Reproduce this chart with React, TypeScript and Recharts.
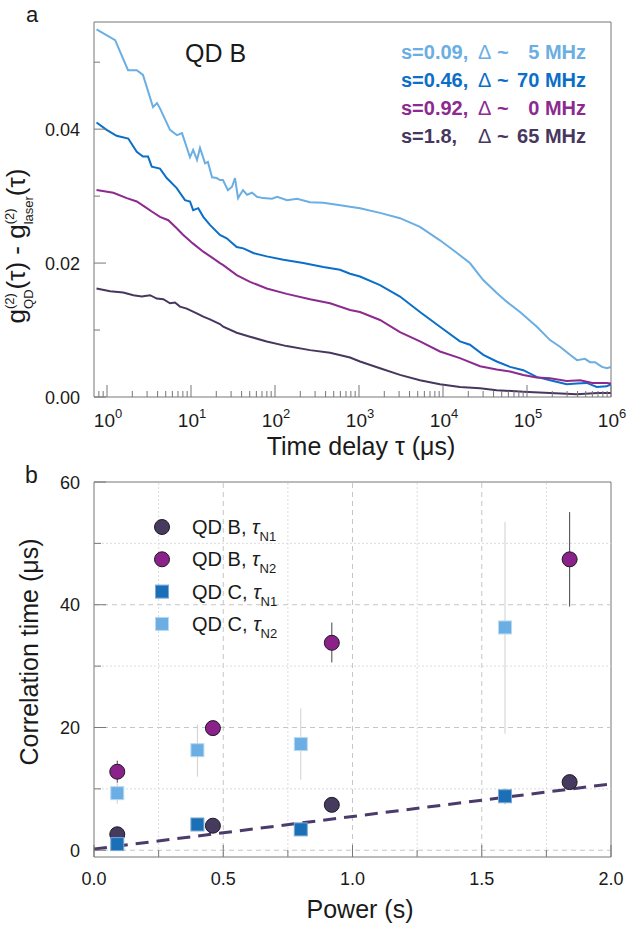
import React from 'react';
import {
  LineChart,
  ComposedChart,
  Line,
  Scatter,
  ErrorBar,
  XAxis,
  YAxis,
  ReferenceArea,
  ReferenceLine,
  Legend,
  Label,
} from 'recharts';

const FONT = '"Liberation Sans", Arial, Helvetica, sans-serif';
const INK = '#1a1a1a';
const FRAME = '#777';

// ---------- panel a: g2_QD - g2_laser vs delay ----------
const tauS009 = [0.75, 1.25, 1.78, 2.26, 2.68, 3.53, 3.94, 4.27, 5.62, 6.81, 7.81, 9.73, 10.6, 11.8, 12.8, 14.7, 15.9, 17.8, 20.2, 22.1, 24, 27.5, 30.8, 33.4, 36.3, 41.6, 46.4, 53.2, 61, 72, 92, 106, 139, 183, 261, 373, 547, 782, 1028, 1778, 3076, 5320, 9200, 14700, 20900, 29900, 44000, 57800, 82600, 131000, 188000, 247000, 325000, 394000, 490000, 562000, 645000, 781000, 896000, 1000000];
const gS009 = [0.0549, 0.0533, 0.0488, 0.0488, 0.0481, 0.0433, 0.0439, 0.0431, 0.0399, 0.0391, 0.0394, 0.0358, 0.0369, 0.0354, 0.0372, 0.0349, 0.0351, 0.0328, 0.0327, 0.0324, 0.0324, 0.0309, 0.0314, 0.0327, 0.0297, 0.0309, 0.0302, 0.0305, 0.0299, 0.0297, 0.0296, 0.0299, 0.0294, 0.0296, 0.0291, 0.029, 0.0287, 0.0284, 0.0282, 0.0275, 0.0267, 0.0254, 0.0234, 0.0215, 0.02, 0.0175, 0.0155, 0.0142, 0.0127, 0.0105, 0.0085, 0.0075, 0.0063, 0.0055, 0.0057, 0.0052, 0.0052, 0.0045, 0.0043, 0.0045];

const tauS046 = [0.75, 0.99, 1.3, 1.79, 2.26, 2.68, 3.08, 3.41, 4.27, 5.14, 6.76, 8.48, 9.73, 10.6, 12.2, 14, 16.8, 22.1, 26.6, 35, 42, 55.2, 79.7, 126, 217, 376, 594, 782, 1028, 1778, 3076, 5320, 9200, 15900, 20900, 30200, 43600, 62800, 90300, 130000, 188000, 297000, 391000, 514000, 676000, 888000, 1000000];
const gS046 = [0.041, 0.0399, 0.039, 0.0386, 0.0366, 0.0359, 0.0359, 0.0344, 0.0341, 0.0327, 0.0312, 0.0294, 0.0292, 0.0279, 0.0282, 0.0269, 0.0257, 0.0242, 0.0237, 0.0224, 0.0222, 0.0215, 0.021, 0.0205, 0.02, 0.0194, 0.019, 0.0184, 0.018, 0.0167, 0.015, 0.0127, 0.0105, 0.0083, 0.0078, 0.0063, 0.0053, 0.0045, 0.004, 0.003, 0.0025, 0.0019, 0.002, 0.0021, 0.0015, 0.0016, 0.0019];

const tauS092 = [0.75, 1.19, 1.72, 2.26, 2.83, 3.41, 4.27, 5.37, 6.76, 8.09, 10.6, 14, 18.4, 22.1, 24.2, 35, 50.4, 79.7, 138, 261, 452, 782, 1028, 1778, 3076, 5320, 9200, 15900, 27600, 43600, 62800, 90300, 130000, 188000, 297000, 430000, 600000, 888000, 1000000];
const gS092 = [0.0309, 0.0305, 0.0297, 0.0292, 0.0284, 0.0277, 0.0269, 0.0264, 0.0252, 0.0242, 0.0229, 0.0217, 0.0207, 0.02, 0.0197, 0.0182, 0.0172, 0.0162, 0.0154, 0.0146, 0.014, 0.013, 0.0127, 0.0115, 0.0097, 0.0083, 0.0068, 0.0058, 0.0046, 0.0041, 0.0038, 0.0033, 0.0029, 0.0028, 0.0024, 0.0025, 0.0021, 0.0021, 0.002];

const tauS18 = [0.75, 1.09, 1.56, 2.06, 2.59, 3.25, 3.91, 4.68, 5.62, 6.45, 7.39, 8.89, 11.7, 14, 16.8, 22.1, 24.2, 35, 50.4, 79.7, 138, 261, 452, 782, 1028, 1778, 3076, 5320, 9200, 15900, 27600, 43600, 90300, 188000, 391000, 700000, 1000000];
const gS18 = [0.0162, 0.0158, 0.0156, 0.0152, 0.015, 0.0152, 0.0147, 0.0146, 0.014, 0.0141, 0.0135, 0.0132, 0.0125, 0.012, 0.0116, 0.0109, 0.0105, 0.0096, 0.009, 0.0083, 0.0076, 0.007, 0.0066, 0.0059, 0.0053, 0.0043, 0.0033, 0.0025, 0.0019, 0.0015, 0.0013, 0.001, 0.0008, 0.0006, 0.0004, 0.0006, 0.0006];

const powerLabelsA = ['s=0.09,', 's=0.46,', 's=0.92,', 's=1.8,'];
const detuningLabelsA = ['5 MHz', '70 MHz', '0 MHz', '65 MHz'];
const colorsA = ['#6aaee3', '#0b6fc8', '#8c2a8f', '#47375e'];

const seriesA = [
  [tauS009, gS009],
  [tauS046, gS046],
  [tauS092, gS092],
  [tauS18, gS18],
].map(([tau, g]) => tau.map((t, i) => ({ tau: t, g: g[i] })));

const X_DOMAIN_A: [number, number] = [0.7, 1e6];
const Y_DOMAIN_A: [number, number] = [0, 0.056];
const decadesA = [0, 1, 2, 3, 4, 5, 6];
const logTicksA = [0.8, 0.9]
  .concat(decadesA.flatMap((d) => [1, 2, 3, 4, 5, 6, 7, 8, 9].map((m) => m * Math.pow(10, d))))
  .filter((v) => v <= 1e6);
const yTicksA = [0, 0.01, 0.02, 0.03, 0.04, 0.05];

// ---------- panel b: correlation times vs power ----------
const powerB = [0.09, 0.46, 0.92, 1.84];
const tauN1B = [2.6, 4.0, 7.4, 11.1];
const errN1B = [0.6, 0.4, 0.5, 0.7];
const tauN2B = [12.8, 19.9, 33.8, 47.4];
const errN2B = [[1.8, 1.8], [0.8, 0.8], [3.2, 3.3], [7.7, 7.7]];

const powerC = [0.09, 0.4, 0.8, 1.59];
const tauN1C = [1.0, 4.2, 3.4, 8.8];
const errN1C = [0.4, 0.6, 0.7, 1.3];
const tauN2C = [9.3, 16.3, 17.3, 36.3];
const errN2C = [[1.7, 1.6], [4.3, 4.2], [5.8, 5.8], [17.3, 17.2]];

const fitPower = [0, 2.0];
const fitTau = [0.2, 10.8];

const xTicksB = [0, 0.25, 0.5, 0.75, 1, 1.25, 1.5, 1.75, 2];
const yTicksB = [0, 10, 20, 30, 40, 50, 60];
const gridXB = [0.25, 0.5, 0.75, 1, 1.25, 1.5, 1.75];
const gridYB = [0, 10, 20, 30, 40, 50];
const X_DOMAIN_B: [number, number] = [0, 2];
const Y_DOMAIN_B: [number, number] = [-1.1, 60];

const legendNamesB = ['QD B, ', 'QD B, ', 'QD C, ', 'QD C, '];
const legendSubB = ['N1', 'N2', 'N1', 'N2'];

const pts = (p: number[], t: number[], e: any[]) => p.map((x, i) => ({ p: x, t: t[i], e: e[i] }));
const dataN1B = pts(powerB, tauN1B, errN1B);
const dataN2B = pts(powerB, tauN2B, errN2B);
const dataN1C = pts(powerC, tauN1C, errN1C);
const dataN2C = pts(powerC, tauN2C, errN2C);
const fitData = fitPower.map((p, i) => ({ p, t: fitTau[i] }));

const DARK = '#463a5e';
const PURPLE = '#8b2289';
const BLUE = '#1b6fb6';
const LIGHT = '#6aaee3';

const circle = (fill: string) => (p: any) => (
  <circle cx={p.cx} cy={p.cy} r={7.5} fill={fill} stroke="#1e1a26" strokeWidth={1} />
);
const square = (fill: string, edge: string) => (p: any) => (
  <rect x={p.cx - 6.5} y={p.cy - 6.5} width={13} height={13} fill={fill} stroke={edge} strokeWidth={1} />
);
const legendShapesB = [circle(DARK), circle(PURPLE), square(BLUE, '#7aa9d4'), square(LIGHT, '#b9d8f1')];

// ---------- ticks ----------
function LogTick({ x, y, payload }: any) {
  const e = Math.log10(payload.value);
  const major = Math.abs(e - Math.round(e)) < 1e-6;
  return (
    <g>
      <line x1={x} x2={x} y1={y} y2={y - (major ? 12 : 6)} stroke={FRAME} />
      {major && (
        <text x={x + 1} y={y + 30} textAnchor="middle" fontFamily={FONT} fontSize={19} fill={INK}>
          10<tspan dy={-9} fontSize={13}>{Math.round(e)}</tspan>
        </text>
      )}
    </g>
  );
}

function GTick({ x, y, payload }: any) {
  const v = payload.value;
  const major = Math.round(v * 100) % 2 === 0;
  return (
    <g>
      <line x1={x} x2={x + (major ? 12 : 6)} y1={y} y2={y} stroke={FRAME} />
      {major && (
        <text x={x - 14} y={y + 6.5} textAnchor="end" fontFamily={FONT} fontSize={18} fill={INK}>
          {v.toFixed(2)}
        </text>
      )}
    </g>
  );
}

function PowerTick({ x, y, payload }: any) {
  const v = payload.value;
  const major = Math.abs(v * 2 - Math.round(v * 2)) < 1e-6;
  return (
    <g>
      <line x1={x} x2={x} y1={y} y2={y - (major ? 12 : 7)} stroke={FRAME} />
      {major && (
        <text x={x} y={y + 28} textAnchor="middle" fontFamily={FONT} fontSize={18} fill={INK}>
          {v.toFixed(1)}
        </text>
      )}
    </g>
  );
}

function CorrTick({ x, y, payload }: any) {
  const v = payload.value;
  const major = v % 20 === 0;
  return (
    <g>
      <line x1={x} x2={x + (major ? 12 : 7)} y1={y} y2={y} stroke={FRAME} />
      {major && (
        <text x={x - 14} y={y + 6.5} textAnchor="end" fontFamily={FONT} fontSize={18} fill={INK}>
          {v}
        </text>
      )}
    </g>
  );
}

// ---------- legends / annotations ----------
function LegendA() {
  return (
    <svg width={629} height={160} style={{ display: 'block' }} fontFamily={FONT}>
      <text x={26} y={22} fontSize={22} fill={INK}>a</text>
      <text x={185} y={62} fontSize={25} fill={INK}>QD B</text>
      {powerLabelsA.map((s, i) => {
        const y = 59 + 28 * i;
        return (
          <g key={s} fill={colorsA[i]} fontSize={20} fontWeight={700}>
            <text x={401} y={y}>{s}</text>
            <text x={478} y={y}>
              <tspan fontWeight={400}>Δ</tspan> ~
            </text>
            <text x={586} y={y} textAnchor="end">{detuningLabelsA[i]}</text>
          </g>
        );
      })}
    </svg>
  );
}

function LegendB() {
  return (
    <svg width={629} height={180} style={{ display: 'block' }} fontFamily={FONT}>
      <text x={25} y={21} fontSize={23} fill={INK}>b</text>
      {legendNamesB.map((name, i) => {
        const cy = 65 + 32.3 * i;
        return (
          <g key={i}>
            {legendShapesB[i]({ cx: 162, cy })}
            <text x={192} y={cy + 7} fontSize={20} fill={INK}>
              {name}
              <tspan fontStyle="italic">τ</tspan>
              <tspan dy={7} fontSize={13}>{legendSubB[i]}</tspan>
            </text>
          </g>
        );
      })}
    </svg>
  );
}

const overlayStyle: React.CSSProperties = { left: 0, top: 0, width: 629, pointerEvents: 'none' };

function PanelA() {
  return (
    <LineChart width={629} height={462} margin={{ top: 22, right: 18, bottom: 35, left: 0 }}>
      <XAxis
        dataKey="tau"
        type="number"
        scale="log"
        domain={X_DOMAIN_A}
        allowDataOverflow
        ticks={logTicksA}
        interval={0}
        tick={(p: any) => <LogTick {...p} />}
        tickLine={false}
        tickSize={0}
        tickMargin={0}
        axisLine={false}
        height={30}
      >
        <Label
          content={() => (
            <text x={361} y={455} textAnchor="middle" fontFamily={FONT} fontSize={25} fill={INK}>
              Time delay τ (μs)
            </text>
          )}
        />
      </XAxis>
      <YAxis
        type="number"
        domain={Y_DOMAIN_A}
        allowDataOverflow
        ticks={yTicksA}
        interval={0}
        tick={(p: any) => <GTick {...p} />}
        tickLine={false}
        tickSize={0}
        tickMargin={0}
        axisLine={false}
        width={94}
      >
        <Label
          content={() => (
            <text
              transform="translate(25, 246) rotate(-90)"
              textAnchor="middle"
              fontFamily={FONT}
              fontSize={26}
              fill={INK}
            >
              g<tspan dy={-11} fontSize={13}>(2)</tspan>
              <tspan dx={-15.9} dy={19} fontSize={13}>QD</tspan>
              <tspan dy={-8}>(τ) - g</tspan>
              <tspan dy={-11} fontSize={13}>(2)</tspan>
              <tspan dx={-15.9} dy={19} fontSize={13}>laser</tspan>
              <tspan dy={-8}>(τ)</tspan>
            </text>
          )}
        />
      </YAxis>
      {seriesA.map((d, i) => (
        <Line
          key={powerLabelsA[i]}
          data={d}
          dataKey="g"
          type="linear"
          stroke={colorsA[i]}
          strokeWidth={2}
          dot={false}
          isAnimationActive={false}
        />
      ))}
      <ReferenceArea
        x1={X_DOMAIN_A[0]}
        x2={X_DOMAIN_A[1]}
        y1={Y_DOMAIN_A[0]}
        y2={Y_DOMAIN_A[1]}
        fill="none"
        stroke={FRAME}
        strokeWidth={1}
      />
      <Legend
        layout="vertical"
        align="center"
        verticalAlign="middle"
        content={() => <LegendA />}
        wrapperStyle={{ ...overlayStyle, height: 160 }}
      />
    </LineChart>
  );
}

function PanelB() {
  const major = (v: number) => Math.abs(v * 2 - Math.round(v * 2)) < 1e-6;
  return (
    <ComposedChart width={629} height={465} margin={{ top: 20, right: 18, bottom: 40, left: 0 }}>
      <XAxis
        dataKey="p"
        type="number"
        domain={X_DOMAIN_B}
        allowDataOverflow
        ticks={xTicksB}
        interval={0}
        tick={(p: any) => <PowerTick {...p} />}
        tickLine={false}
        tickSize={0}
        tickMargin={0}
        axisLine={false}
        height={30}
      >
        <Label
          content={() => (
            <text x={360} y={456} textAnchor="middle" fontFamily={FONT} fontSize={25} fill={INK}>
              Power (s)
            </text>
          )}
        />
      </XAxis>
      <YAxis
        type="number"
        domain={Y_DOMAIN_B}
        allowDataOverflow
        ticks={yTicksB}
        interval={0}
        tick={(p: any) => <CorrTick {...p} />}
        tickLine={false}
        tickSize={0}
        tickMargin={0}
        axisLine={false}
        width={94}
      >
        <Label
          content={() => (
            <text
              transform="translate(38, 190) rotate(-90)"
              textAnchor="middle"
              fontFamily={FONT}
              fontSize={25}
              fill={INK}
            >
              Correlation time (μs)
            </text>
          )}
        />
      </YAxis>
      {gridXB.map((v) => (
        <ReferenceLine
          key={'x' + v}
          x={v}
          stroke={major(v) ? '#c6c6c6' : '#dcdcdc'}
          strokeDasharray={major(v) ? '5 4' : '2 2'}
        />
      ))}
      {gridYB.map((v) => (
        <ReferenceLine
          key={'y' + v}
          y={v}
          stroke={v % 20 === 0 ? '#c6c6c6' : '#dcdcdc'}
          strokeDasharray={v % 20 === 0 ? '5 4' : '2 2'}
        />
      ))}
      <Line
        data={fitData}
        dataKey="t"
        type="linear"
        stroke="#4b3b6b"
        strokeWidth={3}
        strokeDasharray="13 8"
        dot={false}
        isAnimationActive={false}
      />
      <Scatter data={dataN1B} dataKey="t" shape={circle(DARK)} isAnimationActive={false}>
        <ErrorBar dataKey="e" direction="y" width={0} stroke="#555" strokeWidth={1} />
      </Scatter>
      <Scatter data={dataN2B} dataKey="t" shape={circle(PURPLE)} isAnimationActive={false}>
        <ErrorBar dataKey="e" direction="y" width={0} stroke="#444" strokeWidth={1} />
      </Scatter>
      <Scatter data={dataN1C} dataKey="t" shape={square(BLUE, '#7aa9d4')} isAnimationActive={false}>
        <ErrorBar dataKey="e" direction="y" width={0} stroke="#aaa" strokeWidth={1} />
      </Scatter>
      <Scatter data={dataN2C} dataKey="t" shape={square(LIGHT, '#b9d8f1')} isAnimationActive={false}>
        <ErrorBar dataKey="e" direction="y" width={0} stroke="#cfcfcf" strokeWidth={1} />
      </Scatter>
      <ReferenceArea
        x1={X_DOMAIN_B[0]}
        x2={X_DOMAIN_B[1]}
        y1={Y_DOMAIN_B[0]}
        y2={Y_DOMAIN_B[1]}
        fill="none"
        stroke={FRAME}
        strokeWidth={1}
      />
      <Legend
        layout="vertical"
        align="center"
        verticalAlign="middle"
        content={() => <LegendB />}
        wrapperStyle={{ ...overlayStyle, height: 180 }}
      />
    </ComposedChart>
  );
}

export default function App() {
  return (
    <div style={{ position: 'absolute', left: 0, top: 0, width: 629, height: 927, background: '#fff' }}>
      <PanelA />
      <PanelB />
    </div>
  );
}
